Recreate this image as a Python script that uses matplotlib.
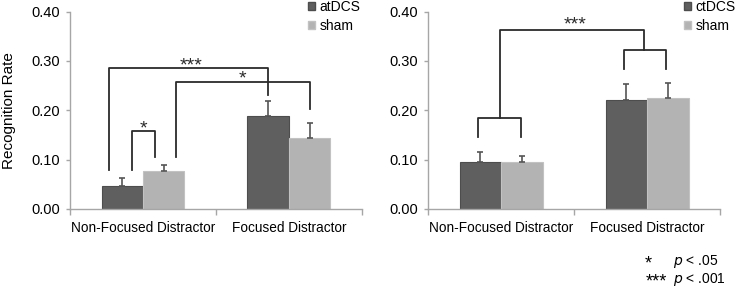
"""
Recognition rate, atDCS / ctDCS vs sham
"""

import matplotlib.pyplot as plt
from matplotlib.patches import Patch

plt.rcParams["font.family"] = ["Liberation Sans", "DejaVu Sans"]

categories = ["Non-Focused Distractor", "Focused Distractor"]
yticks = [0.00, 0.10, 0.20, 0.30, 0.40]

# left panel: atDCS vs sham
at_mean = [0.047, 0.188]
at_err = [0.016, 0.031]
sham_l_mean = [0.077, 0.143]
sham_l_err = [0.012, 0.032]

# right panel: ctDCS vs sham
ct_mean = [0.095, 0.221]
ct_err = [0.021, 0.033]
sham_r_mean = [0.095, 0.225]
sham_r_err = [0.012, 0.031]

dark = "#5f5f5f"
light = "#b3b3b3"
axis_col = "#a6a6a6"
line_col = "#2b2b2b"
w = 0.284

fig = plt.figure(figsize=(7.37, 2.91), dpi=100)
ax1 = fig.add_axes([0.095, 0.282, 0.396, 0.678])
ax2 = fig.add_axes([0.581, 0.282, 0.396, 0.678])


def draw_panel(ax, m1, e1, m2, e2, lab1, legx):
    x = range(len(categories))
    x1 = [i - w / 2 for i in x]
    x2 = [i + w / 2 for i in x]
    ax.bar(x1, m1, w, color=dark, edgecolor="#4d4d4d", linewidth=0.8, zorder=2)
    ax.bar(x2, m2, w, color=light, edgecolor="#c2c2c2", linewidth=0.8, zorder=2)
    ax.errorbar(x1, m1, yerr=[[0, 0], e1], fmt="none", ecolor="#555555",
                elinewidth=1.2, capsize=2, capthick=1.2, zorder=3)
    ax.errorbar(x2, m2, yerr=[[0, 0], e2], fmt="none", ecolor="#555555",
                elinewidth=1.2, capsize=2, capthick=1.2, zorder=3)
    ax.set_xlim(-0.5, 1.5)
    ax.set_ylim(0, 0.40)
    ax.set_yticks(yticks)
    ax.set_yticklabels(["%.2f" % t for t in yticks], fontsize=10.5)
    ax.set_xticks([0, 1])
    ax.set_xticklabels(categories, fontsize=9.8)
    ax.set_xticks([-0.5, 0.5, 1.5], minor=True)
    ax.tick_params(axis="x", which="major", length=0, pad=9)
    ax.tick_params(axis="x", which="minor", length=4, color=axis_col, width=1)
    ax.tick_params(axis="y", length=3, color=axis_col, width=1, pad=4)
    for s in ["top", "right"]:
        ax.spines[s].set_visible(False)
    for s in ["left", "bottom"]:
        ax.spines[s].set_color(axis_col)
        ax.spines[s].set_linewidth(1)
    handles = [Patch(facecolor=dark, edgecolor="#4d4d4d"),
               Patch(facecolor=light, edgecolor="#c2c2c2")]
    ax.legend(handles, [lab1, "sham"], loc="upper left",
              bbox_to_anchor=(legx, 1.06), frameon=False, fontsize=10,
              handlelength=0.5, handleheight=0.5, handletextpad=0.3,
              labelspacing=0.4, borderaxespad=0, borderpad=0)


def bracket(ax, xl, xr, y, yl, yr, text=None, tx=None, ty=None):
    ax.plot([xl, xl, xr, xr], [yl, y, y, yr], color=line_col, lw=1.3,
            zorder=4, clip_on=False)
    if text:
        ax.text(tx, ty, text, ha="center", va="baseline", fontsize=14,
                color=line_col)


draw_panel(ax1, at_mean, at_err, sham_l_mean, sham_l_err, "atDCS", 0.816)
draw_panel(ax2, ct_mean, ct_err, sham_r_mean, sham_r_err, "ctDCS", 0.877)
ax1.set_ylabel("Recognition Rate", fontsize=11, labelpad=11)

# significance brackets, left panel
bracket(ax1, -0.231, 0.858, 0.286, 0.078, 0.231, "***", 0.33, 0.280)
bracket(ax1, 0.224, 1.144, 0.258, 0.105, 0.203, "*", 0.68, 0.2535)
bracket(ax1, -0.077, 0.082, 0.157, 0.078, 0.105, "*", 0.0, 0.153)

# right panel
bracket(ax2, -0.158, 0.133, 0.185, 0.146, 0.146)
bracket(ax2, 0.842, 1.128, 0.322, 0.283, 0.283)
bracket(ax2, -0.009, 0.979, 0.362, 0.185, 0.322, "***", 0.505, 0.3645)

# footnote
fig.text(648 / 737, 1 - 268 / 291, "*", fontsize=13, ha="center", va="baseline")
fig.text(673 / 737, 1 - 265.5 / 291, "$\\it{p}$ < .05", fontsize=10, va="baseline")
fig.text(656 / 737, 1 - 286 / 291, "***", fontsize=13, ha="center", va="baseline")
fig.text(673 / 737, 1 - 283.5 / 291, "$\\it{p}$ < .001", fontsize=10, va="baseline")

fig.savefig("out.png", dpi=100)
